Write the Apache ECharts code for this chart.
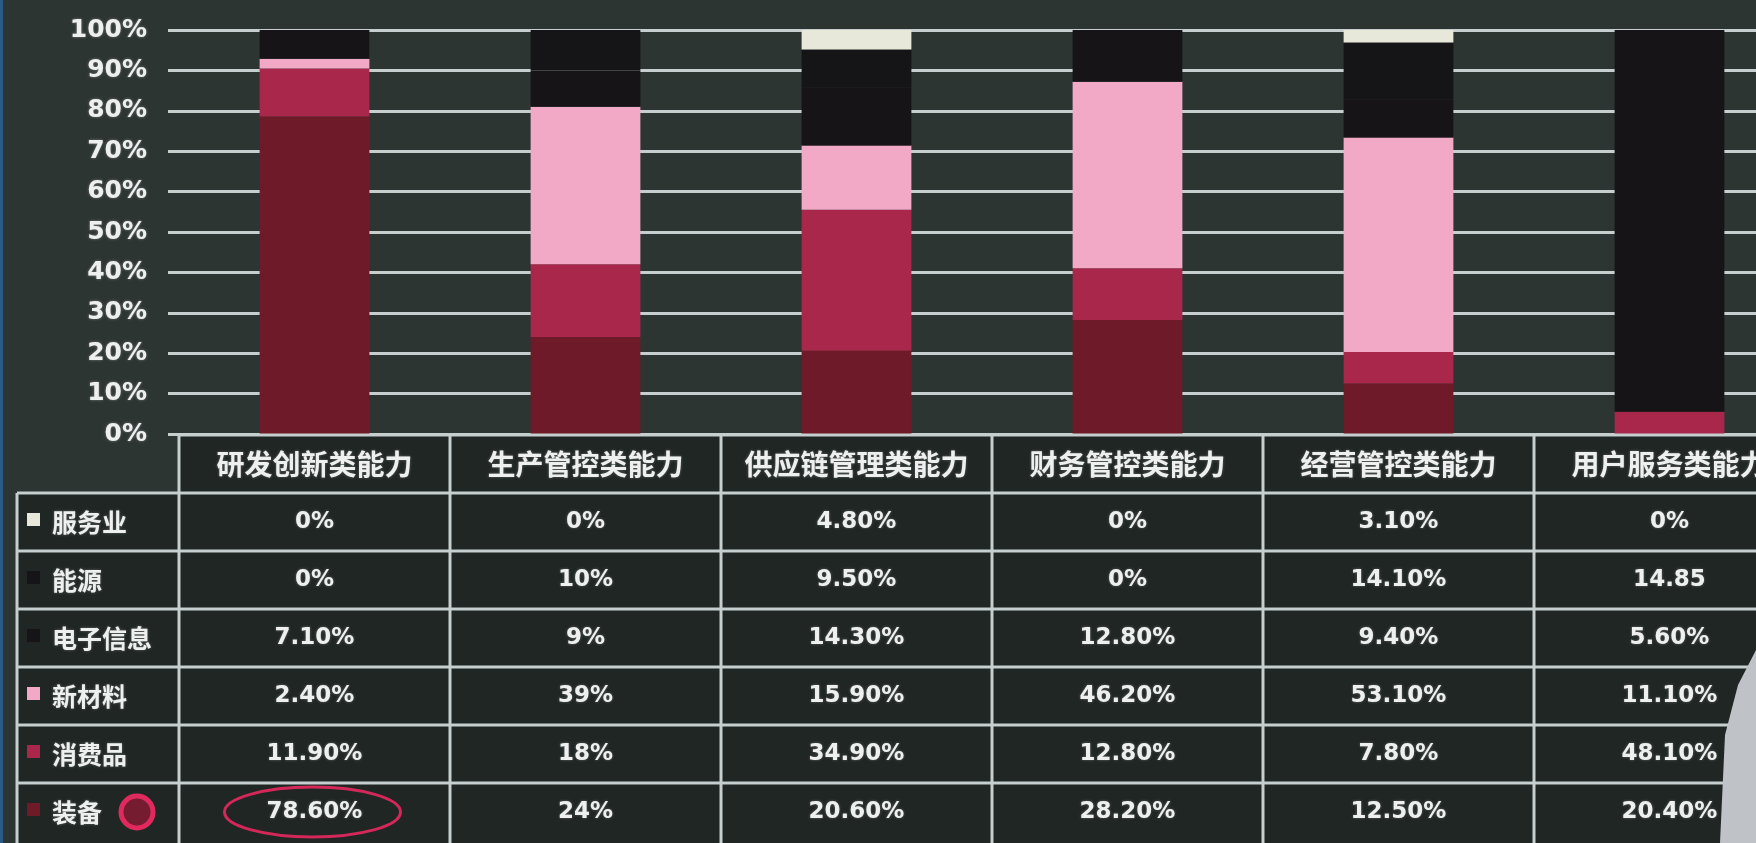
<!DOCTYPE html>
<html><head><meta charset="utf-8">
<script src="https://cdn.jsdelivr.net/npm/echarts@6/dist/echarts.min.js"></script>
<style>html,body{margin:0;padding:0;background:#2d3533;} #c{width:1756px;height:843px;}</style>
</head><body><div id="c"></div>
<script>
// ---- data ----
const categories = ['研发创新类能力','生产管控类能力','供应链管理类能力','财务管控类能力','经营管控类能力','用户服务类能力'];
const seriesNames = ['装备','消费品','新材料','电子信息','能源','服务业']; // stack order, bottom first
// bar segment values as drawn (percent)
const zhuangbei  = [78.6, 24, 20.6, 28.2, 12.5, 0];
const xiaofeipin = [11.9, 18, 34.9, 12.8, 7.8, 5.5];
const xincailiao = [2.4, 39, 15.9, 46.2, 53.1, 0];
const dianzi     = [7.1, 9, 14.3, 12.8, 9.4, 94.5];
const nengyuan   = [0, 10, 9.5, 0, 14.1, 0];
const fuwuye     = [0, 0, 4.8, 0, 3.1, 0];
// table rows (top to bottom) and their cell texts
const tableRows = ['服务业','能源','电子信息','新材料','消费品','装备'];
const txtFuwuye     = ['0%','0%','4.80%','0%','3.10%','0%'];
const txtNengyuan   = ['0%','10%','9.50%','0%','14.10%','14.85'];
const txtDianzi     = ['7.10%','9%','14.30%','12.80%','9.40%','5.60%'];
const txtXincailiao = ['2.40%','39%','15.90%','46.20%','53.10%','11.10%'];
const txtXiaofeipin = ['11.90%','18%','34.90%','12.80%','7.80%','48.10%'];
const txtZhuangbei  = ['78.60%','24%','20.60%','28.20%','12.50%','20.40%'];

// ---- styles ----
const colors = {'装备':'#6e1a28','消费品':'#a8274a','新材料':'#f2a9c6','电子信息':'#161416','能源':'#151517','服务业':'#e8e8da'};
const seriesData = {'装备':zhuangbei,'消费品':xiaofeipin,'新材料':xincailiao,'电子信息':dianzi,'能源':nengyuan,'服务业':fuwuye};
const rowTexts = {'服务业':txtFuwuye,'能源':txtNengyuan,'电子信息':txtDianzi,'新材料':txtXincailiao,'消费品':txtXiaofeipin,'装备':txtZhuangbei};
const lineColor = '#c6cece';
const cellBg = '#1f2624';
const txtColor = '#eef0f0';
const cjk = '"Noto Sans CJK SC", "Noto Sans", sans-serif';
const num = '"DejaVu Sans", sans-serif';

const chart = echarts.init(document.getElementById('c'), null, {renderer:'canvas'});
chart.setOption({
  backgroundColor:'#2d3533',
  animation:false,
  grid:{left:179, top:30, width:1626, height:404, outerBoundsMode:'none', containLabel:false},
  xAxis:{type:'category', data:categories, axisLine:{show:false}, axisTick:{show:false}, axisLabel:{show:false}, splitLine:{show:false}},
  yAxis:{type:'value', min:0, max:100, interval:10,
    axisLine:{show:false},
    axisTick:{show:true, length:11, lineStyle:{color:lineColor, width:3}},
    splitLine:{show:true, lineStyle:{color:lineColor, width:3}},
    axisLabel:{margin:32, color:txtColor, fontSize:25, fontWeight:'bold', fontFamily:num, formatter:'{value}%',
      textShadowColor:'rgba(255,255,255,0.35)', textShadowBlur:3}
  },
  series: seriesNames.map(n => ({
    name:n, type:'bar', stack:'total', barWidth:'40.5%',
    data: seriesData[n], itemStyle:{color:colors[n]}
  }))
});

// ---- table drawn from the category axis positions ----
const W = 1756, H = 843;
const cx = i => chart.convertToPixel({xAxisIndex:0}, categories[i]);
const band = cx(1) - cx(0);
const colLeft = i => cx(i) - band/2;
const tTop = Math.round(chart.convertToPixel({yAxisIndex:0}, 0)) + 1;
const rowH = 58;
const labelLeft = 17;
const g = [];
const line = (x1,y1,x2,y2) => g.push({type:'line', z:10, shape:{x1,y1,x2,y2}, style:{stroke:lineColor, lineWidth:3}});
const ts = {textShadowColor:'rgba(255,255,255,0.3)', textShadowBlur:3};

g.push({type:'rect', z:5, shape:{x:colLeft(0), y:tTop, width:W-colLeft(0), height:rowH}, style:{fill:cellBg}});
g.push({type:'rect', z:5, shape:{x:labelLeft, y:tTop+rowH, width:W-labelLeft, height:H-tTop-rowH}, style:{fill:cellBg}});
line(colLeft(0), tTop, W, tTop);
for (let r=1; r<=6; r++) line(labelLeft, tTop+rowH*r, W, tTop+rowH*r);
line(labelLeft, tTop+rowH, labelLeft, H);
for (let c=0; c<=categories.length; c++) line(colLeft(c), tTop, colLeft(c), H);

categories.forEach((cat,c) => {
  g.push({type:'text', z:12, x:cx(c), y:tTop+rowH/2, style:Object.assign({text:cat, fill:txtColor, font:'bold 28px '+cjk, textAlign:'center', textVerticalAlign:'middle'}, ts)});
});
tableRows.forEach((rn,r) => {
  const yc = tTop + rowH*(r+1) + rowH/2;
  g.push({type:'rect', z:12, shape:{x:27, y:yc-9, width:13, height:13}, style:{fill:colors[rn]}});
  g.push({type:'text', z:12, x:52, y:yc, style:Object.assign({text:rn, fill:txtColor, font:'bold 25px '+cjk, textAlign:'left', textVerticalAlign:'middle'}, ts)});
  rowTexts[rn].forEach((t,c) => {
    g.push({type:'text', z:12, x:cx(c), y:yc, style:Object.assign({text:t, fill:txtColor, font:'bold 23px '+num, textAlign:'center', textVerticalAlign:'middle'}, ts)});
  });
});
// hand-drawn red annotations
const yLast = tTop + rowH*6 + rowH/2;
g.push({type:'ellipse', z:13, shape:{cx:cx(0)-2, cy:yLast, rx:88, ry:25}, style:{fill:'none', stroke:'#d4285a', lineWidth:3}});
g.push({type:'circle', z:13, shape:{cx:137, cy:yLast, r:16}, style:{fill:'rgba(190,20,60,0.55)', stroke:'#e02a5e', lineWidth:5}});
// photo artefacts: screen edge & viewer at right
g.push({type:'rect', z:14, shape:{x:0, y:0, width:3, height:H}, style:{fill:'#2a5a8a'}});
g.push({type:'polygon', z:14, shape:{points:[[1756,650],[1738,685],[1725,735],[1720,843],[1756,843]]}, style:{fill:'#bfc3c8'}});
chart.setOption({graphic:g});
</script></body></html>
